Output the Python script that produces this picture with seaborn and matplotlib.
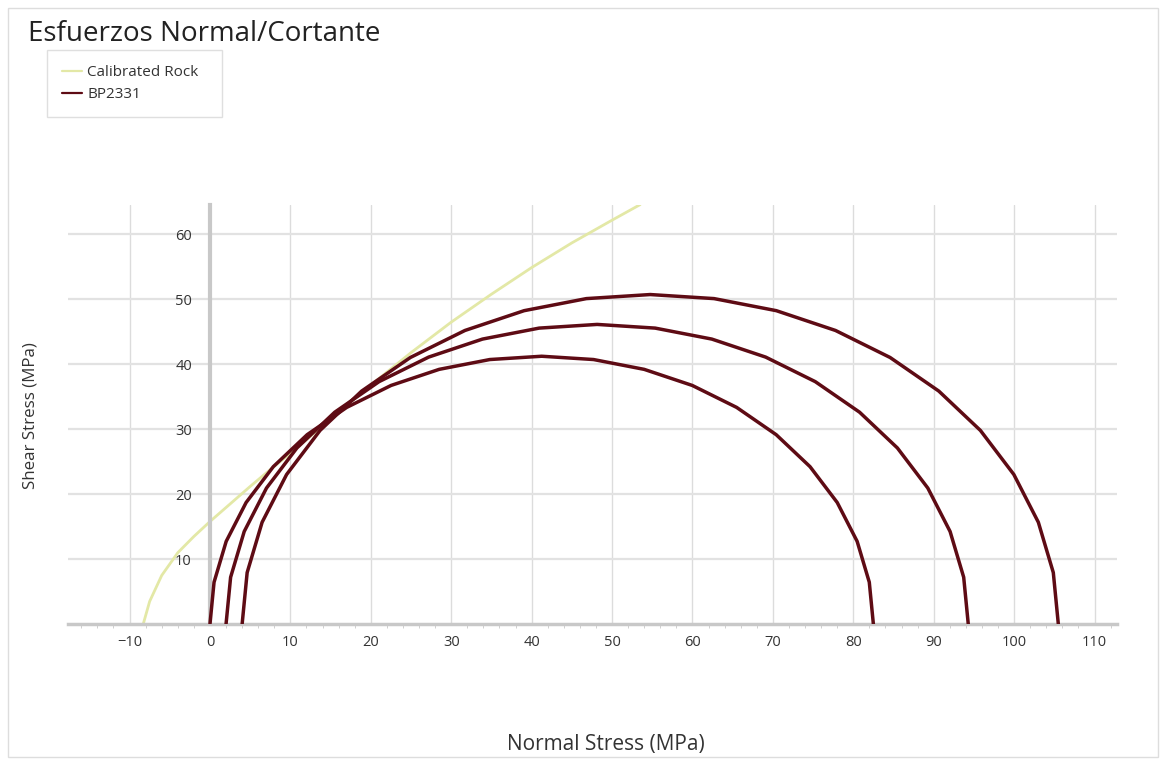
import numpy as np
import pandas as pd
import seaborn as sns
import matplotlib.pyplot as plt
from matplotlib.patches import Rectangle

# Mohr circles for sample BP2331 (principal stresses, MPa)
sigma3 = [0.0, 2.0, 4.0]
sigma1 = [82.5, 94.3, 105.5]
arc_angles_deg = list(range(0, 181, 9))  # polygon vertices used by the original software

# Calibrated rock failure envelope
env_sigma = [-8.3, -7.5, -6.0, -4.0, -2.0, 0.0, 2.5, 5.0, 7.5, 10.0, 15.0,
             20.0, 25.0, 30.0, 35.0, 40.0, 45.0, 50.0, 53.5]
env_tau = [0.0, 3.5, 7.5, 11.0, 13.5, 15.8, 18.5, 21.2, 23.8, 26.3, 31.6,
           36.8, 41.8, 46.5, 50.8, 54.9, 58.7, 62.2, 64.6]

x_ticks = list(range(-10, 111, 10))
y_ticks = list(range(10, 61, 10))

env_color = '#e3e8a6'
arc_color = '#5e0b14'

sns.set_style('white')
plt.rcParams['font.family'] = ['Open Sans', 'DejaVu Sans']

# build Mohr circle points from the principal stresses
rows = []
for i, (s3, s1) in enumerate(zip(sigma3, sigma1)):
    c = (s1 + s3) / 2
    r = (s1 - s3) / 2
    for a in arc_angles_deg:
        t = np.radians(a)
        rows.append({'circle': i, 'sigma': c + r * np.cos(t), 'tau': r * np.sin(t)})
circles = pd.DataFrame(rows)
envelope = pd.DataFrame({'sigma': env_sigma, 'tau': env_tau})

fig = plt.figure(figsize=(11.66, 7.63), dpi=100)
ax = fig.add_axes([0.058, 0.182, 0.9, 0.549])

# grid
for xv in x_ticks:
    ax.axvline(xv, color='#dcdcdc', lw=1, zorder=0)
for yv in y_ticks:
    ax.axhline(yv, color='#e2e2e2', lw=1.6, zorder=0)

sns.lineplot(data=envelope, x='sigma', y='tau', sort=False, color=env_color,
             lw=2, ax=ax, label='Calibrated Rock', zorder=2)
sns.lineplot(data=circles, x='sigma', y='tau', units='circle', estimator=None,
             sort=False, color=arc_color, lw=2.5, ax=ax, label='BP2331', zorder=3)

ax.set_xlim(-17.7, 112.8)
ax.set_ylim(0, 64.5)

# axes cross at the origin
for s in ['top', 'right']:
    ax.spines[s].set_visible(False)
ax.spines['left'].set_position(('data', 0))
ax.spines['left'].set_color('#c8c8c8')
ax.spines['left'].set_linewidth(3)
ax.spines['bottom'].set_color('#c8c8c8')
ax.spines['bottom'].set_linewidth(2.5)

ax.set_xticks(x_ticks)
ax.set_yticks(y_ticks)
ax.set_xticks(np.arange(-16, 113, 2), minor=True)
ax.tick_params(axis='both', which='major', length=0, labelsize=10.5,
               labelcolor='#333333', pad=8)
ax.tick_params(axis='x', which='minor', length=3, color='#c8c8c8', bottom=True)
ax.tick_params(axis='y', pad=13)
ax.set_xlabel('')
ax.set_ylabel('')

fig.text(0.026, 0.455, 'Shear Stress (MPa)', rotation=90, fontsize=12.2,
         color='#333333', ha='center', va='center')
fig.text(0.52, 0.024, 'Normal Stress (MPa)', fontsize=15, color='#333333',
         ha='center', va='center')
fig.text(0.024, 0.956, 'Esfuerzos Normal/Cortante', fontsize=20,
         color='#222222', ha='left', va='center')

ax.get_legend().remove()
handles, labels = ax.get_legend_handles_labels()
leg = fig.legend(handles[:2], labels[:2], loc='upper left',
                 bbox_to_anchor=(47 / 1166, 1 - 115 / 763, 175 / 1166, 65 / 763),
                 mode='expand', fontsize=11, frameon=True, fancybox=False,
                 handlelength=1.3, handletextpad=0.35, borderpad=1.0,
                 labelspacing=0.45, borderaxespad=0)
leg.get_frame().set_edgecolor('#d8d8d8')
leg.get_frame().set_linewidth(1)
for t in leg.get_texts():
    t.set_color('#333333')
for h in leg.legend_handles:
    h.set_linewidth(1.6)

# outer frame of the panel
fig.patches.append(Rectangle((0.007, 0.008), 0.986, 0.982, transform=fig.transFigure,
                             fill=False, edgecolor='#dddddd', lw=1))

fig.savefig('out.png', dpi=100)
